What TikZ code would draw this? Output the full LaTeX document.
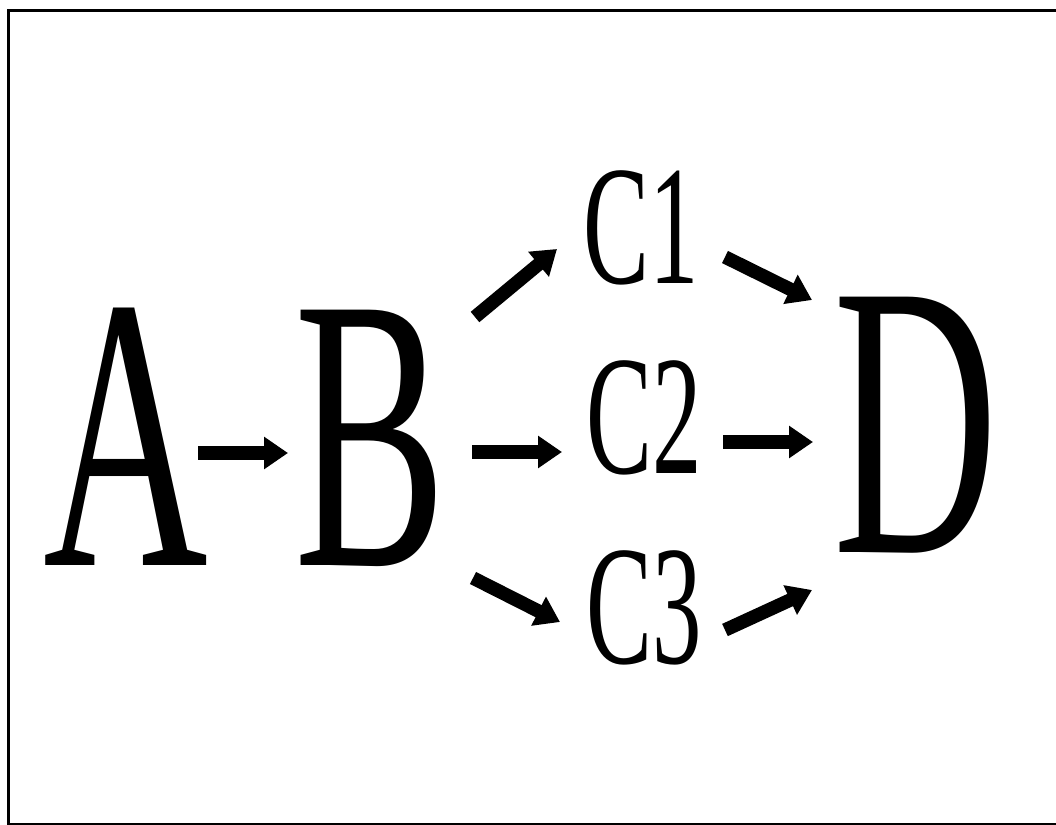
\documentclass[tikz,border=0pt]{standalone}
\usepackage{fontspec}
\setmainfont{Liberation Serif}
\usepackage{tikz}
\usetikzlibrary{positioning, arrows.meta}

\newcommand{\narrow}[1]{\scalebox{0.585}[1]{#1}}
\newcommand{\narrowc}[1]{\scalebox{0.58}[1]{#1}}

\begin{document}
\begin{tikzpicture}[
    x=0.02cm, y=-0.02cm,
    big/.style={inner sep=0pt, anchor=base, font=\fontsize{222}{222}\selectfont},
    small/.style={inner sep=0pt, anchor=base, font=\fontsize{97}{97}\selectfont},
    arr/.style={-{Triangle[length=0.48cm, width=0.62cm]}, line width=0.27cm}
]
\useasboundingbox (0,0) rectangle (1056,825);
\draw[line width=0.05cm] (8.5,10.5) rectangle (1070,824);

\node[big] (A) at (125.5,565) {\narrow{A}};
\node[big] (B) at (371,565) {\narrow{B}};
\node[small] (C1) at (641,283) {\narrowc{C1}};
\node[small] (C2) at (644.5,473) {\narrowc{C2}};
\node[small] (C3) at (644.5,663) {\narrowc{C3}};
\node[big] (D) at (916,552) {\narrow{D}};

\draw[arr] ([shift={(72.5,-112)}]A.base) -- ([shift={(-83,-112)}]B.base);
\draw[arr] ([shift={(104,-248)}]B.base) -- ([shift={(-84,-34)}]C1.base);
\draw[arr] ([shift={(101,-113)}]B.base) -- ([shift={(-82.5,-21)}]C2.base);
\draw[arr] ([shift={(102,13)}]B.base) -- ([shift={(-84.5,-41)}]C3.base);
\draw[arr] ([shift={(84,-26)}]C1.base) -- ([shift={(-104,-252)}]D.base);
\draw[arr] ([shift={(78.5,-31)}]C2.base) -- ([shift={(-103,-110)}]D.base);
\draw[arr] ([shift={(80.5,-33)}]C3.base) -- ([shift={(-104,38)}]D.base);

\end{tikzpicture}
\end{document}
